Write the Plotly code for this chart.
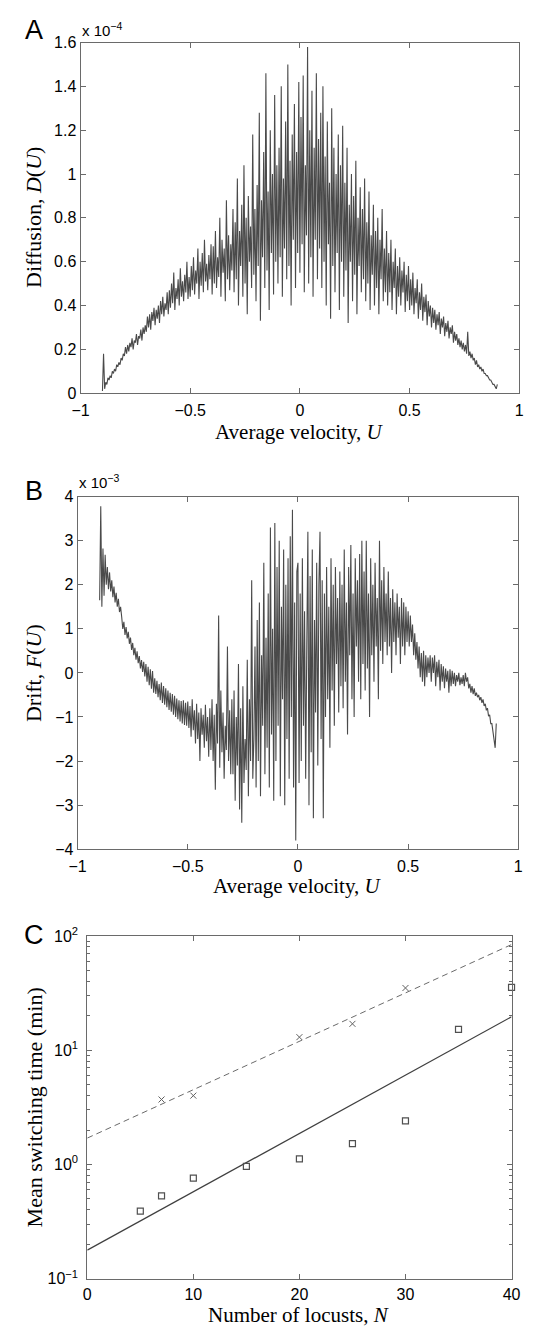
import numpy as np
import plotly.graph_objects as go

# ---------------- DATA ----------------
# Panel A: diffusion D(U), values in units of 1e-6 (100 -> 1e-4), U from -0.9 to 0.9
u_start, u_end = -0.9, 0.9
diff_vals = [
    1, 18, 2, 5, 4, 7, 6, 8, 7, 10, 9, 11, 10, 13, 12, 14, 13, 16, 15, 18,
    17, 21, 18, 22, 19, 23, 21, 25, 20, 24, 23, 27, 22, 26, 25, 29, 24, 30, 27, 31,
    28, 35, 30, 36, 29, 37, 33, 39, 31, 38, 34, 40, 32, 42, 36, 44, 35, 41, 38, 46,
    36, 47, 39, 50, 41, 55, 38, 48, 43, 52, 40, 57, 44, 51, 42, 54, 46, 60, 43, 53,
    44, 58, 47, 62, 45, 56, 50, 66, 43, 60, 49, 64, 46, 70, 51, 59, 47, 63, 52, 68,
    45, 67, 50, 74, 48, 62, 53, 80, 44, 70, 55, 66, 42, 88, 52, 72, 47, 68, 56, 84,
    46, 78, 52, 98, 40, 74, 58, 86, 44, 104, 50, 80, 36, 90, 60, 76, 48, 118, 54, 84,
    42, 95, 58, 128, 33, 88, 62, 110, 48, 146, 56, 92, 38, 120, 64, 100, 45, 136, 60, 104,
    50, 112, 62, 140, 44, 98, 66, 124, 52, 150, 58, 106, 40, 118, 70, 132, 48, 110, 64, 142,
    55, 126, 68, 145, 46, 104, 72, 158, 50, 120, 62, 138, 44, 112, 70, 146, 52, 116, 66, 128,
    48, 140, 60, 108, 40, 124, 68, 96, 34, 130, 58, 112, 46, 100, 64, 118, 38, 104, 60, 122,
    44, 96, 56, 112, 32, 86, 60, 100, 42, 90, 54, 106, 36, 80, 58, 94, 46, 84, 52, 98,
    42, 78, 50, 92, 38, 72, 54, 86, 40, 74, 48, 80, 36, 70, 52, 84, 42, 66, 46, 74,
    40, 64, 46, 70, 38, 60, 48, 66, 36, 58, 44, 62, 40, 56, 46, 60, 37, 54, 42, 58,
    38, 52, 40, 55, 36, 48, 41, 52, 34, 46, 38, 50, 33, 44, 37, 45, 31, 42, 35, 40,
    30, 39, 32, 38, 29, 36, 31, 37, 27, 34, 30, 35, 26, 32, 28, 33, 25, 30, 27, 31,
    23, 28, 24, 27, 22, 25, 21, 24, 20, 23, 19, 22, 18, 28, 17, 19, 16, 18, 15, 16,
    13, 15, 12, 13, 11, 12, 10, 11, 9, 9, 8, 8, 7, 6, 6, 5, 4, 4, 3, 2,
    4,
]

# Panel B: drift F(U), values in units of 1e-5 (100 -> 1e-3), U from -0.9 to 0.9
drift_vals = [
    165, 378, 150, 282, 175, 268, 200, 240, 190, 228, 185, 210, 172, 196, 160, 182, 150, 168, 138, 150,
    127, 100, 116, 86, 104, 78, 93, 66, 80, 52, 68, 40, 57, 30, 49, 22, 38, 10, 29, 2,
    25, -8, 20, -20, 14, -28, 8, -36, 4, -45, -12, -48, -18, -55, -25, -62, -22, -68, -30, -72,
    -35, -78, -40, -84, -45, -88, -48, -95, -52, -100, -58, -105, -62, -110, -64, -115, -62, -118, -68, -120,
    -65, -125, -75, -145, -60, -130, -85, -160, -70, -150, -90, -200, -80, -140, -95, -170, -72, -155, -100, -190,
    -80, -175, -60, -200, -95, -265, -70, -160, 130, -215, -40, -180, -90, -240, -120, -175, 60, -200, -85, -230,
    -60, -230, -40, -290, -100, -210, 20, -310, -80, -340, -30, -250, -150, -220, 30, -280, -60, -200, 210, -240,
    -150, 60, -260, 120, -200, 160, -280, 40, -120, 250, -230, 80, -170, 180, -260, 330, -140, 100, -290, 340,
    -200, 240, -120, 300, -280, 150, -60, 280, -300, 200, -150, 260, -240, 310, -100, 370, -260, 160, -380, 230,
    250, -250, 180, -200, 260, -120, 140, -240, 60, 320, -300, 220, -180, 280, -330, 120, -90, 250, -210, 200,
    320, -150, 210, -330, 180, -100, 240, -60, 150, -170, 260, -40, 200, -120, 240, 20, 170, -90, 230, -30,
    200, -80, 280, -20, 160, -140, 240, 40, 290, -60, 180, -100, 260, 60, 210, -20, 270, -60, 300, 20,
    230, -40, 300, 10, 180, -100, 260, 40, 200, -20, 250, 60, 170, -60, 300, 50, 210, 20, 240, 70,
    180, 40, 230, 60, 170, 0, 190, 70, 160, 40, 180, 80, 150, 20, 170, 60, 160, 40, 150, 70,
    140, 60, 130, 70, 110, 40, 90, 30, 70, 10, 60, -10, 45, -20, 50, -30, 40, -10, 35, 0,
    40, -20, 35, 0, 40, -30, 25, -10, 30, -40, 20, -20, 15, -35, 10, -20, 5, -45, 8, -30,
    5, -25, 0, -30, -5, -20, 0, -28, -10, -25, -5, -30, 0, -20, -10, -35, -25, -45, -30, -48,
    -35, -52, -45, -55, -50, -62, -55, -68, -60, -75, -70, -85, -80, -98, -95, -115, -115, -135, -145, -170,
    -115,
]

# Panel C: mean switching time vs number of locusts
sq_N = [5, 7, 10, 15, 20, 25, 30, 35, 40]
sq_T = [0.39, 0.53, 0.76, 0.96, 1.12, 1.52, 2.4, 15.2, 35.5]
x_N = [7, 10, 20, 25, 30]
x_T = [3.7, 4.0, 13, 17, 35]
fit_N = [0, 40]
fit_solid_T = [0.178, 19.6]
fit_dash_T = [1.7, 84]

# ---------------- FIGURE ----------------
W, H = 536, 1332
LINE = "#4a4a4a"
AX = "#6a6a6a"
SANS = "Liberation Sans, Arial, sans-serif"
SERIF = "Liberation Serif, Times New Roman, serif"

def px_x(p):
    return p / W

def px_y(p):
    return 1 - p / H

uA = np.linspace(u_start, u_end, len(diff_vals))
uB = np.linspace(u_start, u_end, len(drift_vals))

fig = go.Figure()
fig.add_trace(go.Scatter(x=uA, y=np.array(diff_vals) / 100.0, mode="lines",
                         line=dict(color=LINE, width=1.1), xaxis="x", yaxis="y",
                         showlegend=False))
fig.add_trace(go.Scatter(x=uB, y=np.array(drift_vals) / 100.0, mode="lines",
                         line=dict(color=LINE, width=1.1), xaxis="x2", yaxis="y2",
                         showlegend=False))
fig.add_trace(go.Scatter(x=fit_N, y=fit_dash_T, mode="lines",
                         line=dict(color="#6a6a6a", width=1, dash="6px,4px"),
                         xaxis="x3", yaxis="y3", showlegend=False))
fig.add_trace(go.Scatter(x=fit_N, y=fit_solid_T, mode="lines",
                         line=dict(color="#404040", width=1.3),
                         xaxis="x3", yaxis="y3", showlegend=False))
fig.add_trace(go.Scatter(x=sq_N, y=sq_T, mode="markers",
                         marker=dict(symbol="square-open", size=6, color="#505050",
                                     line=dict(width=1.2, color="#505050")),
                         xaxis="x3", yaxis="y3", showlegend=False, cliponaxis=False))
fig.add_trace(go.Scatter(x=x_N, y=x_T, mode="markers",
                         marker=dict(symbol="x-thin-open", size=6, color="#606060",
                                     line=dict(width=1, color="#606060")),
                         xaxis="x3", yaxis="y3", showlegend=False, cliponaxis=False))

common = dict(showgrid=False, zeroline=False, showline=True, linecolor=AX, linewidth=1,
              ticks="inside", ticklen=5, tickcolor=AX, mirror="ticks",
              tickfont=dict(family=SANS, size=16, color="black"))
xcommon = dict(common, ticklabelstandoff=3)
xcommonC = dict(common, ticklabelstandoff=1)

# panel domains (pixels -> paper)
A_x = [px_x(74), px_x(528)]
A_y = [px_y(388), px_y(32)]
B_x = [px_x(71), px_x(527)]
B_y = [px_y(851), px_y(493)]
C_x = [px_x(81), px_x(520)]
C_y = [px_y(1287), px_y(939)]

fig.update_layout(
    width=W, height=H,
    margin=dict(l=0, r=0, t=0, b=0),
    paper_bgcolor="white", plot_bgcolor="white",
    xaxis=dict(domain=A_x, anchor="y", range=[-1, 1], dtick=0.5, tick0=-1, **xcommon),
    yaxis=dict(domain=A_y, anchor="x", range=[0, 1.6], dtick=0.2, tick0=0, **common),
    xaxis2=dict(domain=B_x, anchor="y2", range=[-1, 1], dtick=0.5, tick0=-1, **xcommon),
    yaxis2=dict(domain=B_y, anchor="x2", range=[-4, 4], dtick=1, tick0=0, **common),
    xaxis3=dict(domain=C_x, anchor="y3", range=[0, 40], dtick=10, tick0=0, **xcommonC),
    yaxis3=dict(domain=C_y, anchor="x3", type="log", range=[-1, 2],
                tickvals=[0.1, 1, 10, 100],
                ticktext=["10<sup>\u22121</sup>", "10<sup>0</sup>", "10<sup>1</sup>", "10<sup>2</sup>"],
                minor=dict(ticks="inside", ticklen=3, tickcolor=AX,
                           tickvals=[0.2, 0.3, 0.4, 0.5, 0.6, 0.7, 0.8, 0.9,
                                     2, 3, 4, 5, 6, 7, 8, 9,
                                     20, 30, 40, 50, 60, 70, 80, 90]),
                ticklabelstandoff=5,
                **common),
)

ann = []
# panel letters
for letter, yy in [("A", 19), ("B", 487), ("C", 938)]:
    ann.append(dict(text=letter, x=px_x(26), y=px_y(yy), xref="paper", yref="paper",
                    showarrow=False, xanchor="center", yanchor="middle",
                    font=dict(family=SANS, size=27, color="black")))
# exponent labels
ann.append(dict(text="x 10<sup>\u22124</sup>", x=px_x(73), y=px_y(19), xref="paper", yref="paper",
                showarrow=False, xanchor="left", yanchor="middle",
                font=dict(family=SANS, size=15, color="black")))
ann.append(dict(text="x 10<sup>\u22123</sup>", x=px_x(70), y=px_y(478), xref="paper", yref="paper",
                showarrow=False, xanchor="left", yanchor="middle",
                font=dict(family=SANS, size=15, color="black")))
# y titles
for txt, yy in [("Diffusion, <i>D</i>(<i>U</i>)", 210),
                ("Drift, <i>F</i>(<i>U</i>)", 672),
                ("Mean switching time (min)", 1113)]:
    ann.append(dict(text=txt, x=px_x(26), y=px_y(yy), xref="paper", yref="paper",
                    showarrow=False, xanchor="center", yanchor="middle", textangle=-90,
                    font=dict(family=SERIF, size=22, color="black")))
# x titles
for txt, xx, yy in [("Average velocity, <i>U</i>", 301, 427),
                    ("Average velocity, <i>U</i>", 299, 888),
                    ("Number of locusts, <i>N</i>", 300, 1324)]:
    ann.append(dict(text=txt, x=px_x(xx), y=px_y(yy), xref="paper", yref="paper",
                    showarrow=False, xanchor="center", yanchor="middle",
                    font=dict(family=SERIF, size=21, color="black")))
fig.update_layout(annotations=ann)

fig.write_html("out.html", config={"displayModeBar": False},
               post_script="document.body.style.margin='0';document.body.style.overflow='hidden';")
